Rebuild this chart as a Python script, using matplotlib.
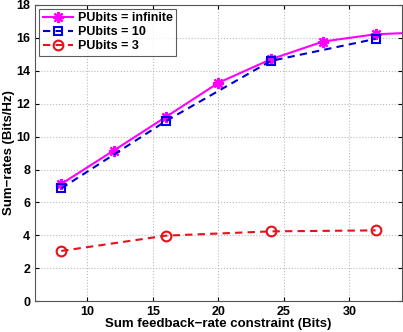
import matplotlib
matplotlib.use("Agg")
import matplotlib.pyplot as plt

x_inf = [8, 12, 16, 20, 24, 28, 32, 36]
y_inf = [7.12, 9.15, 11.2, 13.27, 14.7, 15.78, 16.22, 16.35]
x_10 = [8, 16, 24, 32]
y_10 = [6.85, 10.95, 14.6, 15.94]
x_3 = [8, 16, 24, 32]
y_3 = [3.05, 3.98, 4.24, 4.3]
labels = ["PUbits = infinite", "PUbits = 10", "PUbits = 3"]
xticks = [10, 15, 20, 25, 30]
yticks = list(range(0, 19, 2))

plt.rcParams['font.family'] = ['Liberation Sans', 'DejaVu Sans']
plt.rcParams['font.weight'] = 'bold'

fig = plt.figure(figsize=(4.03, 3.32), dpi=100)
ax = fig.add_axes([0.087, 0.093, 0.91, 0.892])

ax.plot(x_inf, y_inf, '-', color='#FF00FF', lw=1.5, marker=(8, 2, 0), ms=8,
        mec='#FF00FF', mfc='#FF00FF', mew=1.6, label=labels[0])
ax.plot(x_10, y_10, '--', color='#0000CC', lw=1.5, marker='s', ms=5.5,
        mec='#0000EE', mfc='none', mew=1.5, label=labels[1], dashes=(3.5, 2.5))
ax.plot(x_3, y_3, '--', color='#E8101A', lw=1.5, marker='o', ms=7,
        mec='#E8101A', mfc='none', mew=1.5, label=labels[2], dashes=(3.5, 2.5))

ax.set_xlim(6, 34)
ax.set_ylim(0, 18)
ax.set_xticks(xticks)
ax.set_yticks(yticks)
ax.tick_params(direction='in', labelsize=9, length=3, top=True, right=True)
for lab in ax.get_xticklabels() + ax.get_yticklabels():
    lab.set_fontweight('bold')
ax.grid(True, linestyle=':', color='#BBBBBB', lw=0.8)
for s in ax.spines.values():
    s.set_color('#555555')

ax.set_xlabel("Sum feedback\u2212rate constraint (Bits)", fontsize=9.5, fontweight='bold', labelpad=0)
ax.set_ylabel("Sum\u2212rates (Bits/Hz)", fontsize=9.5, fontweight='bold', labelpad=1)

leg = ax.legend(loc='upper left', fontsize=9, frameon=True, fancybox=False,
                edgecolor='#333333', borderaxespad=0.3, handlelength=2.4,
                borderpad=0.3, labelspacing=0.15, handletextpad=0.4)
leg.get_frame().set_linewidth(0.8)
for t in leg.get_texts():
    t.set_fontweight('bold')

fig.savefig("out.png", dpi=100)
